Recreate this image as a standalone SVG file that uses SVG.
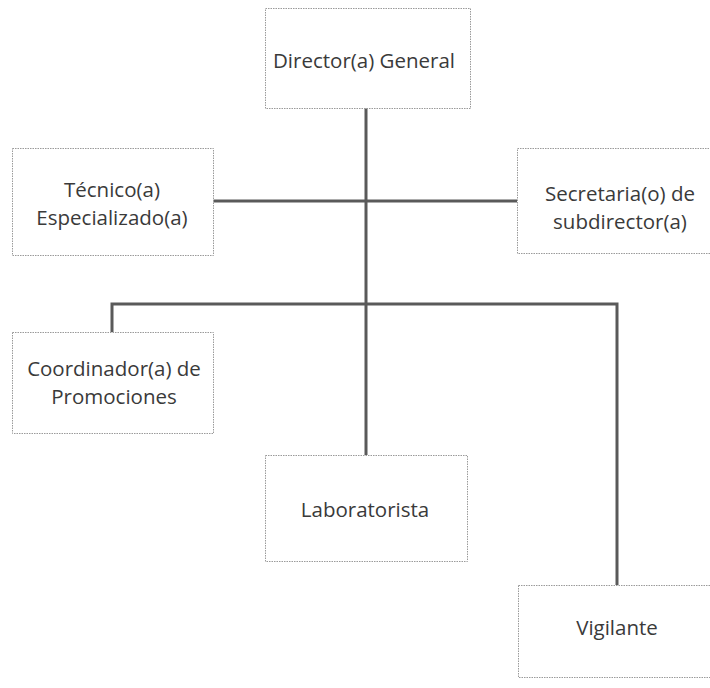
<svg xmlns="http://www.w3.org/2000/svg" width="710" height="688" viewBox="0 0 710 688">
<style>
.box{fill:#ffffff;stroke:#9a9a9a;stroke-width:1;stroke-dasharray:1.5 1}
.lbl{font-family:"Open Sans","Liberation Sans",sans-serif;font-size:20.5px;fill:#3a3a3a;text-anchor:middle}
.ln{stroke:#5a5a5a;stroke-width:3;fill:none}
</style>
<rect x="0" y="0" width="710" height="688" fill="#ffffff"/>
<g id="connectors">
<line class="ln" x1="366" y1="108" x2="366" y2="455"/>
<line class="ln" x1="213" y1="201" x2="517" y2="201"/>
<path class="ln" d="M112 332 V304 H617 V585"/>
</g>
<g id="director">
<rect class="box" x="265.5" y="8.5" width="205" height="100"/>
<text class="lbl" x="364" y="68">Director(a) General</text>
</g>
<g id="tecnico">
<rect class="box" x="12.5" y="148.5" width="201" height="107"/>
<text class="lbl" x="112" y="197">Técnico(a)</text>
<text class="lbl" x="112" y="225">Especializado(a)</text>
</g>
<g id="secretaria">
<rect class="box" x="517.5" y="148.5" width="200" height="105"/>
<text class="lbl" x="620" y="201">Secretaria(o) de</text>
<text class="lbl" x="620" y="229">subdirector(a)</text>
</g>
<g id="coordinador">
<rect class="box" x="12.5" y="332.5" width="201" height="101"/>
<text class="lbl" x="114" y="376">Coordinador(a) de</text>
<text class="lbl" x="114" y="404">Promociones</text>
</g>
<g id="laboratorista">
<rect class="box" x="265.5" y="455.5" width="202" height="106"/>
<text class="lbl" x="365" y="517">Laboratorista</text>
</g>
<g id="vigilante">
<rect class="box" x="518.5" y="585.5" width="200" height="92"/>
<text class="lbl" x="617" y="635">Vigilante</text>
</g>
</svg>
